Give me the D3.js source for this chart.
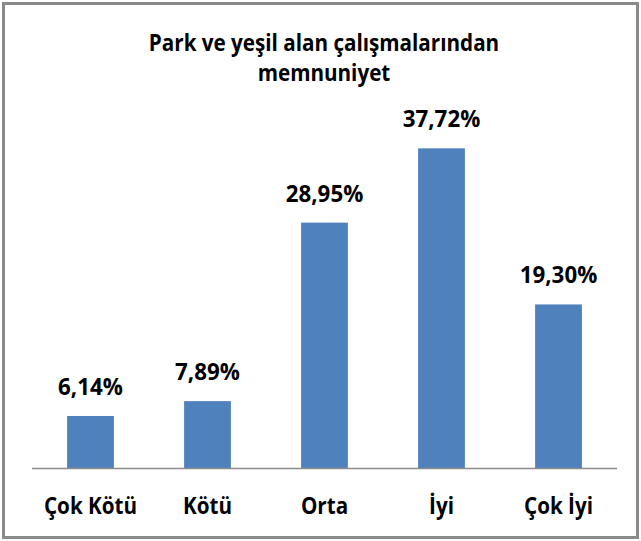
<!DOCTYPE html>
<html>
<head>
<meta charset="utf-8">
<script src="https://cdn.jsdelivr.net/npm/d3@7"></script>
<style>
  body { margin: 0; background: #fff; }
  svg text { font-family: "Open Sans", "DejaVu Sans", sans-serif; font-weight: bold; fill: #000; }
</style>
</head>
<body>
<svg id="chart"></svg>
<script>
const titleLines = ['Park ve yeşil alan çalışmalarından', 'memnuniyet']
const categories = ['Çok Kötü', 'Kötü', 'Orta', 'İyi', 'Çok İyi']
const values = [6.14, 7.89, 28.95, 37.72, 19.30]

const width = 641
const height = 541
const margin = { top: 129, right: 24, bottom: 73, left: 32 }

const barColour = '#4F81BD'
const axisColour = '#8c8c8c'
const borderColour = '#8a8a8a'

const data = categories.map((c, i) => ({ category: c, value: values[i] }))

const svg = d3.select('#chart')
  .attr('width', width)
  .attr('height', height)

// outer frame
svg.append('rect')
  .attr('x', 3.5).attr('y', 3.5)
  .attr('width', width - 7).attr('height', height - 7)
  .attr('fill', '#fff')
  .attr('stroke', borderColour)
  .attr('stroke-width', 3)

// squeeze text horizontally so it looks closer to Calibri
const squeeze = (sel, k) => sel.each(function() {
  const len = this.getComputedTextLength()
  d3.select(this).attr('textLength', len * k).attr('lengthAdjust', 'spacingAndGlyphs')
})

/// Scales ///
const xScale = d3.scaleBand()
  .domain(categories)
  .range([margin.left, width - margin.right])
  .paddingInner(0.6)
  .paddingOuter(0.3)

const yScale = d3.scaleLinear()
  .domain([0, 40])
  .range([height - margin.bottom, margin.top])

/// Title ///
svg.append('g')
  .selectAll('text')
  .data(titleLines)
  .join('text')
    .attr('x', 324)
    .attr('y', (d, i) => 51 + i * 30)
    .attr('text-anchor', 'middle')
    .attr('font-size', '24px')
    .text(d => d)
    .call(squeeze, 0.86)

/// Bars ///
svg.append('g')
  .selectAll('rect')
  .data(data)
  .join('rect')
    .attr('x', d => xScale(d.category))
    .attr('y', d => yScale(d.value))
    .attr('width', xScale.bandwidth())
    .attr('height', d => yScale(0) - yScale(d.value))
    .attr('fill', barColour)

/// Value labels ///
svg.append('g')
  .selectAll('text')
  .data(data)
  .join('text')
    .attr('x', d => xScale(d.category) + xScale.bandwidth() / 2)
    .attr('y', d => yScale(d.value) - 21)
    .attr('text-anchor', 'middle')
    .attr('font-size', '24px')
    .text(d => d3.format('.2f')(d.value).replace('.', ',') + '%')
    .call(squeeze, 0.93)

/// Axis ///
const xAxis = g => g
  .attr('transform', `translate(0, ${yScale(0)})`)
  .call(d3.axisBottom(xScale).tickSize(0).tickSizeOuter(0))
  .call(g => g.select('.domain')
    .attr('stroke', axisColour)
    .attr('stroke-width', 1.5)
    .attr('d', `M${margin.left},0.5H${width - margin.right}`))
  .call(g => g.selectAll('.tick text')
    .attr('y', 46)
    .attr('dy', 0)
    .attr('font-size', '24px')
    .attr('fill', '#000')
    .call(squeeze, 0.86))

svg.append('g').call(xAxis)
</script>
</body>
</html>
